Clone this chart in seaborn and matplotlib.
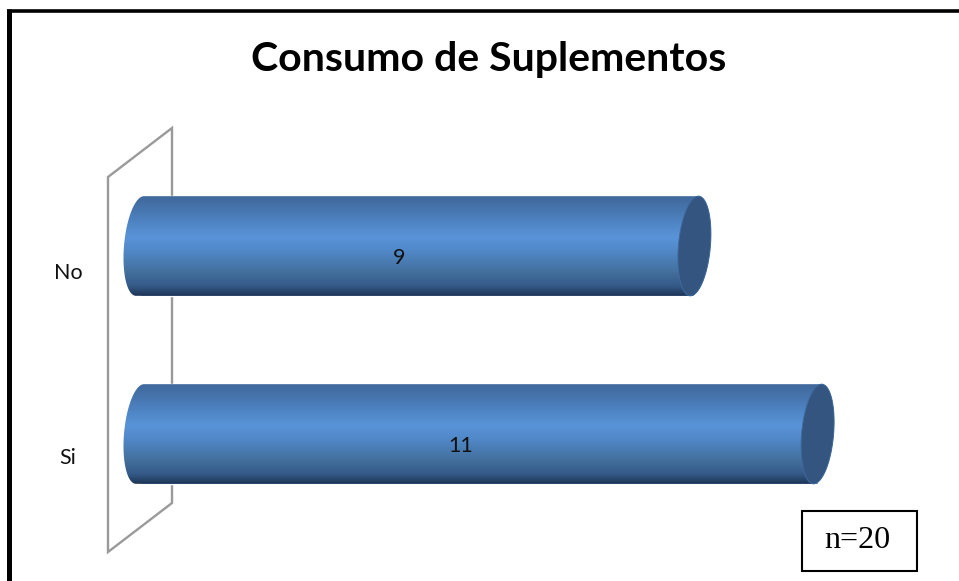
import numpy as np
import pandas as pd
import matplotlib
matplotlib.use("Agg")
import matplotlib.pyplot as plt
import seaborn as sns
from matplotlib.colors import LinearSegmentedColormap
from matplotlib.patches import Polygon, Rectangle

categories = ["No", "Si"]
values = [9, 11]
title = "Consumo de Suplementos"
note = "n=20"

W, H = 959, 581
sns.set_theme(style="white")
plt.rcParams["font.family"] = ["Lato", "DejaVu Sans"]
fig = plt.figure(figsize=(W / 100, H / 100), dpi=100, facecolor="white")

UNIT = 61.6            # pixels per x unit
ZERO = 140             # pixel of x=0
XMIN, XMAX = -1, 12
ax_left, ax_right = ZERO + XMIN * UNIT, ZERO + XMAX * UNIT
ax_top, ax_bottom = 152, 528
ax = fig.add_axes([ax_left / W, 1 - ax_bottom / H, (ax_right - ax_left) / W, (ax_bottom - ax_top) / H])
df = pd.DataFrame({"cat": categories, "val": values})
sns.barplot(data=df, y="cat", x="val", order=categories, orient="h", width=0.53,
            color="#4F81BD", ax=ax, saturation=1)
ax.set_xlabel("")
ax.set_ylabel("")
ax.set_xticks([])
ax.set_yticks([])
for s in ax.spines.values():
    s.set_visible(False)
ax.patch.set_alpha(0)

cmap = LinearSegmentedColormap.from_list("cyl", [
    (0.00, "#40689C"), (0.12, "#4674AC"), (0.28, "#4F86C6"), (0.41, "#5A94D8"),
    (0.55, "#5088C8"), (0.75, "#44719F"), (0.90, "#355A88"), (1.00, "#1E3554")])
grad = np.linspace(0, 1, 256).reshape(-1, 1)
A = 16 / UNIT          # end-cap half width, data units
SKEW = 4 / UNIT        # cap lean at its top and bottom, data units
t = np.linspace(0, 2 * np.pi, 181)


def cap(xc, yc, half_h, tt):
    """Leaning ellipse outline around the bar end at (xc, yc)."""
    s = np.sin(tt)
    return np.column_stack([xc + A * np.cos(tt) - SKEW * s, yc + half_h * s])


bars = list(ax.patches)
for bar in bars:
    x0, xe = bar.get_x(), bar.get_width()
    y0, bh = bar.get_y(), bar.get_height()
    yc, hh = y0 + bh / 2, bh / 2
    bar.set_zorder(1)
    # outline: right half of far end, then left half of near end (y axis is inverted)
    right = cap(xe, yc, hh, np.linspace(-np.pi / 2, np.pi / 2, 91))
    left = cap(x0, yc, hh, np.linspace(np.pi / 2, 3 * np.pi / 2, 91))
    outline = Polygon(np.vstack([right, left]), closed=True, transform=ax.transData)
    im = ax.imshow(grad, cmap=cmap, extent=[x0 - 2 * A, xe + 2 * A, y0 + bh, y0],
                   aspect="auto", zorder=3, interpolation="bilinear")
    im.set_clip_path(outline)
    ax.add_patch(Polygon(cap(xe, yc, hh, t), closed=True, facecolor="#33557F",
                         edgecolor="#3F6A9E", linewidth=0.7, zorder=4))
ax.set_xlim(XMIN, XMAX)
ax.set_ylim(1.5, -0.5)

# Data labels sit a little off the bar centre, as in the reference
for bar, v in zip(bars, values):
    ax.annotate(str(v), xy=(v / 2, bar.get_y() + bar.get_height() / 2),
                xytext=(-18 * 0.72, -12.5 * 0.72), textcoords="offset points",
                ha="center", va="center", fontsize=15.5, color="#111111", zorder=6)

# Back layer in figure pixels: frame and wall
ov = fig.add_axes([0, 0, 1, 1], zorder=-1)
ov.set_xlim(0, W)
ov.set_ylim(H, 0)
ov.axis("off")
ov.add_patch(Polygon([(108, 177), (172, 128), (172, 503), (108, 552)], closed=True, fill=False,
                     edgecolor="#9A9A9A", linewidth=1.7))
ov.plot([8.5, 8.5], [9, H], color="black", lw=3.6, solid_capstyle="butt")
ov.plot([6.5, W], [10.5, 10.5], color="black", lw=2.6, solid_capstyle="butt")

# Front layer in figure pixels: title, category labels, note box
top = fig.add_axes([0, 0, 1, 1], zorder=5)
top.set_xlim(0, W)
top.set_ylim(H, 0)
top.axis("off")
top.text(489, 60, title, ha="center", va="center", fontsize=29.5, fontweight="bold", color="black")
top.text(68, 273, categories[0], ha="center", va="center", fontsize=15.5, color="#111111")
top.text(68, 458, categories[1], ha="center", va="center", fontsize=15.5, color="#111111")
top.add_patch(Rectangle((802, 511), 114.5, 60, facecolor="white", edgecolor="black", linewidth=1.5))
top.text(857, 540, note, ha="center", va="center", fontsize=23, color="black",
         family=["Liberation Serif", "DejaVu Serif"])

fig.savefig("out.png", dpi=100, facecolor="white")
